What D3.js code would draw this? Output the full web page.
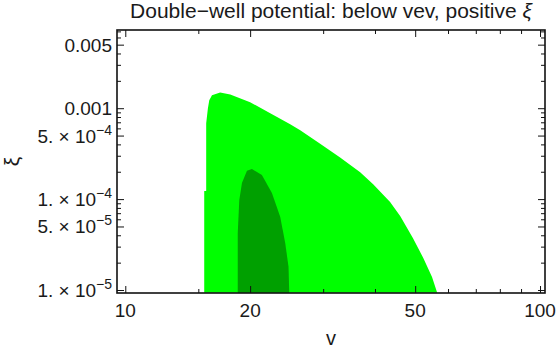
<!DOCTYPE html>
<html lang="en">
<head>
<meta charset="utf-8">
<title>Double-well potential</title>
<script src="https://cdn.jsdelivr.net/npm/d3@7"></script>
<style>
  body { margin: 0; background: #fff; }
  text { font-family: "Liberation Sans", Arial, sans-serif; fill: #1a1a1a; }
  .frame { fill: none; stroke: #111; stroke-width: 1.6; }
  .tick line { stroke: #111; stroke-width: 1; }
  .domain { display: none; }
</style>
</head>
<body>
<script>
// outer region (light green), boundary, left edge -> top -> right edge
var lightV  = [15.50, 15.50, 15.67, 15.67, 15.82, 15.94, 16.18, 16.93, 17.91, 20.0, 22.36, 24.98, 26.41, 29.5, 32.96, 36.84, 39.6, 43.5, 46.0, 49.4, 52.3, 54.9, 56.5];
var lightXi = [9.3e-6, 1.225e-4, 1.225e-4, 6.84e-4, 1.0e-3, 1.225e-3, 1.39e-3, 1.488e-3, 1.415e-3, 1.164e-3, 8.81e-4, 6.67e-4, 5.73e-4, 4.07e-4, 2.86e-4, 1.98e-4, 1.46e-4, 9.27e-5, 6.50e-5, 3.72e-5, 2.25e-5, 1.39e-5, 9.3e-6];

// inner region (dark green)
var darkV  = [18.67, 18.67, 18.83, 19.11, 19.65, 20.2, 21.35, 22.57, 23.63, 24.3, 24.75, 24.85];
var darkXi = [9.3e-6, 4.23e-5, 9.75e-5, 1.50e-4, 2.05e-4, 2.14e-4, 1.84e-4, 1.164e-4, 6.39e-5, 3.28e-5, 1.80e-5, 9.3e-6];

// ticks
var vMajor = [10, 20, 50, 100];
var vMinor = [15, 30, 40, 60, 70, 80, 90];
var xiMajor = [1e-5, 5e-5, 1e-4, 5e-4, 1e-3, 5e-3];
var xiMant  = ["1. \u00d7 10", "5. \u00d7 10", "1. \u00d7 10", "5. \u00d7 10", "0.001", "0.005"];
var xiExp   = ["\u22125", "\u22125", "\u22124", "\u22124", "", ""];

var w = 556, h = 350;
var padL = 117, padR = 545, padT = 30, padB = 293;

var xScale = d3.scaleLog().domain([9.55, 102.8]).range([padL, padR]);
var yScale = d3.scaleLog().domain([9.27e-6, 7.25e-3]).range([padB, padT]);

var svg = d3.select("body").append("svg")
    .attr("width", w)
    .attr("height", h);

svg.append("clipPath").attr("id", "plotClip")
  .append("rect")
    .attr("x", padL).attr("y", padT)
    .attr("width", padR - padL).attr("height", padB - padT);

var line = d3.line()
    .x(function(d) { return xScale(d[0]); })
    .y(function(d) { return yScale(d[1]); });

var plot = svg.append("g").attr("clip-path", "url(#plotClip)");

plot.append("path")
    .datum(d3.zip(lightV, lightXi))
    .attr("fill", "#00ff00")
    .attr("d", function(d) { return line(d) + "Z"; });

plot.append("path")
    .datum(d3.zip(darkV, darkXi))
    .attr("fill", "#00a000")
    .attr("d", function(d) { return line(d) + "Z"; });

// inward ticks on all four sides
function ticks(axisFn, scale, vals, size, transform) {
  svg.append("g")
    .attr("transform", transform)
    .call(axisFn(scale).tickValues(vals).tickSize(size).tickFormat(""));
}
var yMinor = yScale.ticks().filter(function(t) {
  return !xiMajor.some(function(m) { return Math.abs(m - t) / m < 1e-6; });
});

ticks(d3.axisTop, xScale, vMajor, 7, "translate(0," + padB + ")");
ticks(d3.axisTop, xScale, vMinor, 4, "translate(0," + padB + ")");
ticks(d3.axisBottom, xScale, vMajor, 7, "translate(0," + padT + ")");
ticks(d3.axisBottom, xScale, vMinor, 4, "translate(0," + padT + ")");
ticks(d3.axisRight, yScale, xiMajor, 7, "translate(" + padL + ",0)");
ticks(d3.axisRight, yScale, yMinor, 4, "translate(" + padL + ",0)");
ticks(d3.axisLeft, yScale, xiMajor, 7, "translate(" + padR + ",0)");
ticks(d3.axisLeft, yScale, yMinor, 4, "translate(" + padR + ",0)");

svg.append("rect")
    .attr("class", "frame")
    .attr("x", padL).attr("y", padT)
    .attr("width", padR - padL).attr("height", padB - padT);

// x tick labels
svg.selectAll(".xlab")
    .data(vMajor)
  .enter().append("text")
    .attr("x", function(d) { return xScale(d); })
    .attr("y", 317)
    .attr("text-anchor", "middle")
    .style("font-size", "19px")
    .text(function(d) { return d; });

// y tick labels
var ylab = svg.selectAll(".ylab")
    .data(xiMajor)
  .enter().append("text")
    .attr("x", padL - 5)
    .attr("y", function(d) { return yScale(d) + 7; })
    .attr("text-anchor", "end")
    .style("font-size", "19px");
ylab.append("tspan").text(function(d, i) { return xiMant[i]; });
ylab.append("tspan")
    .attr("dy", -8)
    .style("font-size", "14px")
    .text(function(d, i) { return xiExp[i]; });

// title and axis labels
var title = svg.append("text")
    .attr("x", (padL + padR) / 2)
    .attr("y", 18)
    .attr("text-anchor", "middle")
    .style("font-size", "21px");
title.append("tspan").text("Double\u2212well potential: below vev, positive ");
title.append("tspan").style("font-style", "italic").text("\u03be");

svg.append("text")
    .attr("x", (padL + padR) / 2)
    .attr("y", 345)
    .attr("text-anchor", "middle")
    .style("font-size", "20px")
    .text("v");

svg.append("text")
    .attr("transform", "translate(19," + ((padT + padB) / 2) + ") rotate(-90)")
    .attr("text-anchor", "middle")
    .style("font-size", "21px")
    .text("\u03be");
</script>
</body>
</html>
